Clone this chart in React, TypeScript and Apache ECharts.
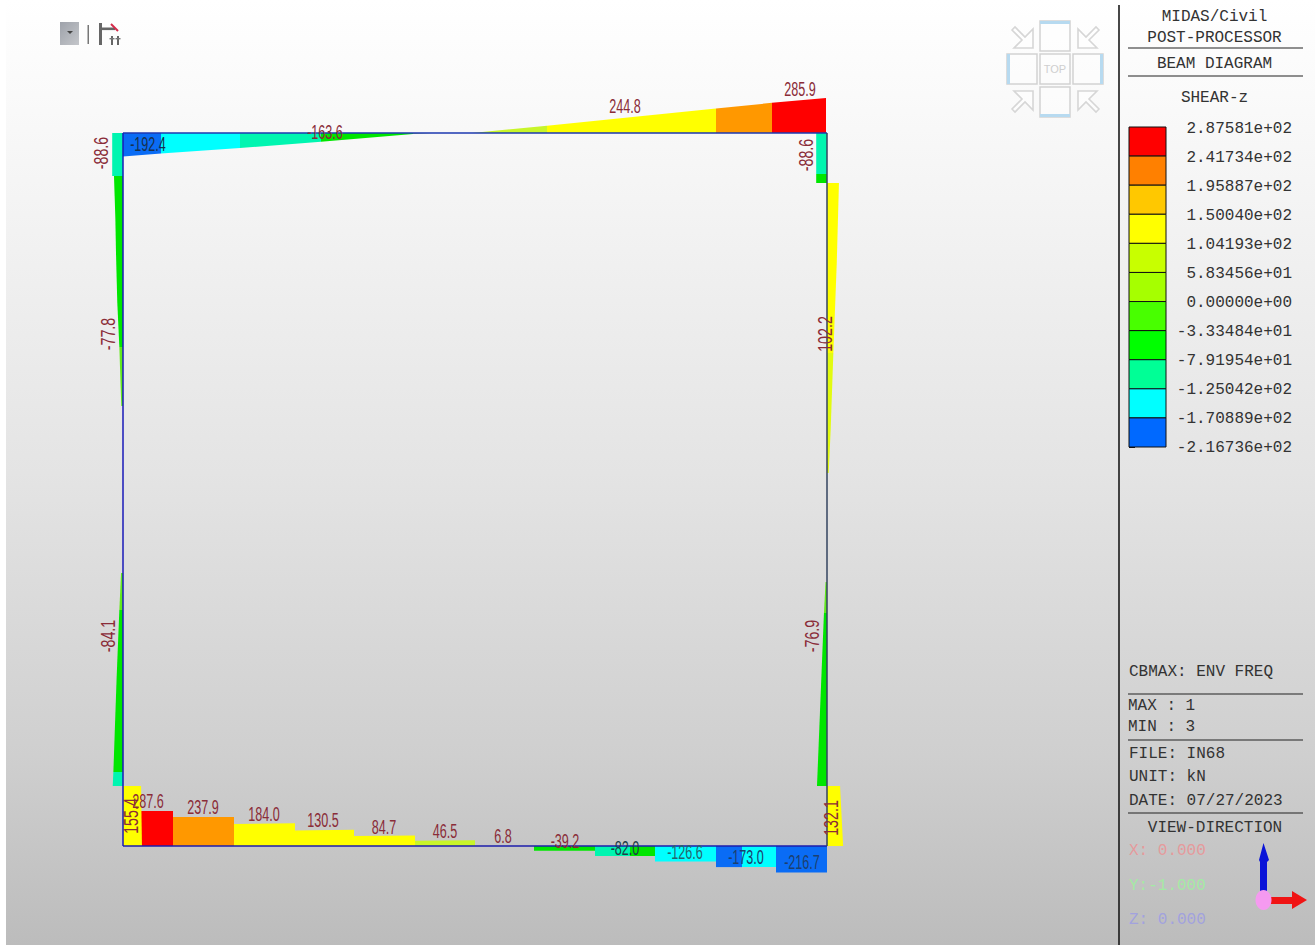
import React, { useEffect, useRef } from "react";
import * as echarts from "echarts";

// ---------- data (station along member, shear at both ends, colour band) ----------
const bottomPieces = [
  [17, 50, 286, 287.6, "red"], [50, 111, 237.9, 237.9, "orange"], [111, 172, 180, 186, "yellow"],
  [172, 231, 127, 133, "yellow"], [231, 292, 82, 87, "yellow"], [292, 352, 44, 48, "lime"],
  [411, 472, -39.2, -39.2, "green"], [472, 507, -82, -82, "teal"], [507, 532, -82, -82, "green"],
  [532, 593, -126.6, -126.6, "cyan"], [593, 619, -173, -173, "blue"], [619, 653, -173, -173, "cyan"],
  [653, 704, -216.7, -216.7, "blue"],
];
const topPieces = [
  [0, 38, -192.4, -169, "blue"], [38, 117, -169, -123, "cyan"], [117, 198, -123, -72, "teal"],
  [198, 290, -72, -8, "green"], [290, 310, -8, 0, "olive"],
  [349, 424, 0, 60, "lime"], [424, 593, 60, 201, "yellow"], [593, 649, 201, 247, "orange"],
  [649, 703, 247, 285.9, "red"],
];
const leftPieces = [
  [0, 43, -88.6, -88.6, "teal"], [43, 84, -74, -63, "green"], [84, 122, -63, -57, "green"],
  [122, 169, -57, -47, "green"], [169, 214, -47, -30, "green"], [214, 273, -30, -14, "lightGreen"],
  [440, 477, -16, -30, "lightGreen"], [477, 544, -30, -52, "green"], [544, 639, -52, -79, "green"],
  [639, 653, -79, -84.1, "teal"], [653, 713, 148, 155.4, "yellow"],
];
const rightPieces = [
  [0, 41, -88.6, -88.6, "teal"], [41, 50, -88.6, -88.6, "green"], [50, 130, 98, 80, "yellow"],
  [130, 220, 80, 52, "yellow"], [220, 297, 52, 30, "paleLime"], [297, 340, 30, 14, "paleLime"],
  [449, 480, -12, -25, "lightGreen"], [480, 653, -25, -82, "green"], [653, 713, 107, 132.1, "yellow"],
];

const bottomLabels = ["287.6", "237.9", "184.0", "130.5", "84.7", "46.5", "6.8", "-39.2", "-82.0", "-126.6", "-173.0", "-216.7"];
const bottomLabelStations = [25, 80, 141, 200, 261, 322, 380, 442, 502, 562, 623, 679];
const bottomLabelOffsets = [45, 39, 32, 26, 19, 15, 10, 5, -1.5, -6, -11, -16];
const topLabels = ["-192.4", "-163.6", "244.8", "285.9"];
const topLabelStations = [25, 202, 502, 677];
const topLabelOffsets = [-11, 1, 27, 44];
const leftLabels = ["-88.6", "-77.8", "-84.1", "155.4"];
const leftLabelStations = [20, 201, 503, 683];
const leftLabelOffsets = [-22, -15, -15, 8];
const rightLabels = ["-88.6", "102.2", "-76.9", "132.1"];
const rightLabelStations = [22, 201, 503, 685];
const rightLabelOffsets = [-21, -2, -15, 4];

const legendTicks = [
  "2.87581e+02", "2.41734e+02", "1.95887e+02", "1.50040e+02", "1.04193e+02", "5.83456e+01",
  "0.00000e+00", "-3.33484e+01", "-7.91954e+01", "-1.25042e+02", "-1.70889e+02", "-2.16736e+02",
];
const legendColors = ["#ff0000", "#ff8000", "#ffc800", "#ffff00", "#c8ff00", "#a6ff00", "#48ff00", "#00ff00", "#00ff96", "#00ffff", "#0069ff"];

const panelTitle = ["MIDAS/Civil", "POST-PROCESSOR", "BEAM DIAGRAM", "SHEAR-z"];
const panelInfo = ["CBMAX: ENV FREQ", "MAX : 1", "MIN : 3", "FILE: IN68", "UNIT: kN", "DATE: 07/27/2023"];
const viewCaption = "VIEW-DIRECTION";
const viewValues = ["X: 0.000", "Y:-1.000", "Z: 0.000"];

// ---------- styles and layout ----------
const K = 0.122; // diagram pixels per kN
const FRAME_W = 704;
const FRAME_H = 713;
const fills: Record<string, string> = {
  red: "#ff0000", orange: "#ff9800", yellow: "#ffff00", lime: "#c8f52a", paleLime: "#e2fb10",
  green: "#00e600", lightGreen: "#62ea1c", teal: "#00f5b0", cyan: "#00ffff", blue: "#0a6cf5", olive: "#8aa868",
};
const frameColors = ["#1c1cab", "#1d38b0", "#1a1ab8", "#33435f"];
const MONO = '16px "Liberation Mono", monospace';

type Row = [number, number, number, number, string];
const members = [bottomPieces, topPieces, leftPieces, rightPieces] as Row[][];
const pieceRows = members.flatMap((list, m) => list.map((r) => [r[0], r[1], r[2], r[3], r[4], m]));

const place = (m: number, station: number, off: number): [number, number] => {
  if (m === 0) return [station, off];
  if (m === 1) return [station, FRAME_H + off];
  if (m === 2) return [off, FRAME_H - station];
  return [FRAME_W + off, FRAME_H - station];
};

const labelSets = [
  [bottomLabels, bottomLabelStations, bottomLabelOffsets],
  [topLabels, topLabelStations, topLabelOffsets],
  [leftLabels, leftLabelStations, leftLabelOffsets],
  [rightLabels, rightLabelStations, rightLabelOffsets],
] as [string[], number[], number[]][];
const labelRows = labelSets.flatMap(([t, s, o], m) => t.map((text, i) => [s[i], o[i], m, text]));
const darkLabels: Record<string, string> = {
  "-192.4": "#17304f", "-82.0": "#1f3d48", "-126.6": "#26656c", "-173.0": "#1d3f6e", "-216.7": "#1d3f6e",
};

const arrowPts = [[0, 3], [3, 0], [13, 10], [21, 2], [21, 21], [2, 21], [10, 13]];
const arrow = (x: number, y: number, sx: number, sy: number) => ({
  type: "polygon", x, y, scaleX: sx, scaleY: sy, silent: true,
  shape: { points: arrowPts },
  style: { fill: "rgba(255,255,255,0.5)", stroke: "#d6d6d6", lineWidth: 1.6 },
});
const square = (x: number, y: number) => ({
  type: "rect", silent: true, shape: { x, y, width: 30, height: 30 },
  style: { fill: "rgba(255,255,255,0.35)", stroke: "#d2d2d2", lineWidth: 1.5 },
});
const bar = (x: number, y: number, width: number, height: number, fill: string) => ({
  type: "rect", silent: true, shape: { x, y, width, height }, style: { fill },
});
const hline = (y: number) => ({
  type: "line", silent: true, shape: { x1: 1128, y1: y, x2: 1303, y2: y }, style: { stroke: "#222", lineWidth: 1.2 },
});
const monoText = (text: string, x: number, y: number, align: string, fill = "#333") => ({
  type: "text", silent: true, x, y: y + 1, style: { text, font: MONO, fill, align, verticalAlign: "middle" },
});

export default function App() {
  const ref = useRef<HTMLDivElement>(null);
  useEffect(() => {
    document.body.style.margin = "0";
    const chart = echarts.init(ref.current!, null, { renderer: "svg" });
    const graphic: any[] = [
      // side panel
      { type: "line", silent: true, shape: { x1: 1119, y1: 5, x2: 1119, y2: 945 }, style: { stroke: "#1a1a1a", lineWidth: 1.6 } },
      hline(48), hline(76), hline(694), hline(740), hline(813),
      monoText(panelTitle[0], 1214.5, 16, "center"),
      monoText(panelTitle[1], 1214.5, 37, "center"),
      monoText(panelTitle[2], 1214.5, 63, "center"),
      monoText(panelTitle[3], 1214.5, 97, "center"),
      monoText(panelInfo[0], 1129, 671, "left"),
      monoText(panelInfo[1], 1128, 705, "left"),
      monoText(panelInfo[2], 1128, 726, "left"),
      monoText(panelInfo[3], 1129, 753, "left"),
      monoText(panelInfo[4], 1129, 776, "left"),
      monoText(panelInfo[5], 1129, 800, "left"),
      monoText(viewCaption, 1215, 827, "center"),
      monoText(viewValues[0], 1129, 850, "left", "#e59a9c"),
      monoText(viewValues[1], 1129, 885, "left", "#a4eaa4"),
      monoText(viewValues[2], 1129, 919, "left", "#a2a2de"),
      // triad
      { type: "polygon", silent: true, shape: { points: [[1260, 893], [1260, 862], [1259, 860], [1263.5, 843], [1269, 860], [1267, 862], [1267, 893]] }, style: { fill: "#0a14d8" } },
      { type: "polygon", silent: true, shape: { points: [[1270, 897], [1292, 897], [1292, 891], [1307, 900], [1292, 909], [1292, 904], [1270, 904]] }, style: { fill: "#f01414" } },
      { type: "ellipse", silent: true, shape: { cx: 1263.5, cy: 900, rx: 8, ry: 10 }, style: { fill: "#f59af0" } },
      // navigation cube
      square(1040, 21), square(1040, 54), square(1007, 54), square(1073, 54), square(1040, 87),
      bar(1040, 21, 30, 3, "#b7daf0"), bar(1007, 54, 3, 30, "#b7daf0"), bar(1100, 54, 3, 30, "#b7daf0"), bar(1040, 114, 30, 3, "#b7daf0"),
      { type: "text", silent: true, x: 1055, y: 69, style: { text: "TOP", font: '11px "Liberation Sans", sans-serif', fill: "#cfcfcf", align: "center", verticalAlign: "middle" } },
      arrow(1012, 27, 1, 1), arrow(1099, 27, -1, 1), arrow(1012, 112, 1, -1), arrow(1099, 112, -1, -1),
      // toolbar
      { type: "rect", silent: true, shape: { x: 60, y: 22, width: 19, height: 23 }, style: { fill: new echarts.graphic.LinearGradient(0, 0, 1, 1, [{ offset: 0, color: "#9ea2aa" }, { offset: 1, color: "#c4c6ca" }]) } },
      { type: "polygon", silent: true, shape: { points: [[67, 31], [73, 31], [70, 34]] }, style: { fill: "#444" } },
      bar(87.5, 25, 1.5, 19, "#777"),
      bar(99, 23, 3, 22, "#666"),
      bar(100, 27.5, 15, 2.6, "#666"),
      { type: "line", silent: true, shape: { x1: 111, y1: 24, x2: 118, y2: 31 }, style: { stroke: "#d42a4a", lineWidth: 2 } },
      bar(111, 36, 2, 9, "#666"), bar(117, 36, 2, 9, "#666"),
      bar(109.5, 38, 5, 1.4, "#777"), bar(115.5, 38, 5, 1.4, "#777"),
    ];

    chart.setOption({
      animation: false,
      backgroundColor: "transparent",
      grid: [
        { left: 0, top: 0, width: 1315, height: 945 },
        { left: 1129, top: 127, width: 37, height: 320 },
        { left: 1129, top: 129, width: 37, height: 319 },
      ],
      xAxis: [
        { type: "value", min: -123, max: 1192, show: false },
        { type: "value", gridIndex: 1, min: 0, max: 1, show: false },
        { type: "value", gridIndex: 2, min: 0, max: 1, show: false },
      ],
      yAxis: [
        { type: "value", min: -99, max: 846, show: false },
        {
          type: "value", gridIndex: 1, min: 0, max: 11, interval: 1, inverse: true, position: "right",
          axisLine: { show: false }, splitLine: { show: false },
          axisTick: { show: true, length: 6, lineStyle: { color: "#111", width: 1 } },
          axisLabel: { show: false },
        },
        {
          type: "value", gridIndex: 2, min: 0, max: 11, interval: 1, inverse: true, position: "right",
          axisLine: { show: false }, splitLine: { show: false }, axisTick: { show: false },
          axisLabel: {
            show: true, margin: 126, align: "right", color: "#333", fontFamily: "Liberation Mono", fontSize: 16,
            formatter: (v: number) => legendTicks[v],
          },
        },
      ],
      series: [
        {
          type: "custom", coordinateSystem: "cartesian2d", silent: true, clip: false, z: 2,
          data: pieceRows,
          renderItem: (p: any, api: any) => {
            const [s0, s1, v0, v1, band, m] = pieceRows[p.dataIndex] as [number, number, number, number, string, number];
            const pts = [place(m, s0, 0), place(m, s1, 0), place(m, s1, v1 * K), place(m, s0, v0 * K)].map((c) => api.coord(c));
            return { type: "polygon", shape: { points: pts }, style: { fill: fills[band] } };
          },
        },
        {
          type: "custom", coordinateSystem: "cartesian2d", silent: true, clip: false, z: 3,
          data: [0, 1, 2, 3].map((m) => [m]),
          renderItem: (p: any, api: any) => {
            const m = p.dataIndex;
            const span = m < 2 ? FRAME_W : FRAME_H;
            const a = api.coord(place(m, 0, 0));
            const b = api.coord(place(m, span, 0));
            return { type: "line", shape: { x1: a[0], y1: a[1], x2: b[0], y2: b[1] }, style: { stroke: frameColors[m], lineWidth: 1.5 } };
          },
        },
        {
          type: "custom", coordinateSystem: "cartesian2d", silent: true, clip: false, z: 4,
          data: labelRows,
          renderItem: (p: any, api: any) => {
            const [s, o, m, text] = labelRows[p.dataIndex] as [number, number, number, string];
            const c = api.coord(place(m, s, o));
            return {
              type: "text", x: c[0], y: c[1], scaleX: m >= 2 ? 0.68 : 0.6, rotation: m >= 2 ? Math.PI / 2 : 0,
              style: { text, fill: darkLabels[text] ?? "#8a2c38", font: '21px "Liberation Sans", sans-serif', align: "center", verticalAlign: "middle" },
            };
          },
        },
        {
          type: "custom", coordinateSystem: "cartesian2d", xAxisIndex: 1, yAxisIndex: 1, silent: true, z: 2,
          data: legendColors.map((_, i) => [i]),
          renderItem: (p: any, api: any) => {
            const i = p.dataIndex;
            const a = api.coord([0, i]);
            const b = api.coord([1, i + 1]);
            return { type: "rect", shape: { x: a[0], y: a[1], width: b[0] - a[0], height: b[1] - a[1] }, style: { fill: legendColors[i], stroke: "#111", lineWidth: 1 } };
          },
        },
      ],
      graphic,
    });
    return () => chart.dispose();
  }, []);

  return (
    <div style={{ position: "fixed", left: 0, top: 0, width: 1315, height: 945, background: "#fff", overflow: "hidden" }}>
      <div style={{ position: "absolute", left: 6, top: 0, width: 1309, height: 945, background: "linear-gradient(to bottom, #ffffff 0%, #fafafa 10%, #e4e4e4 50%, #cfcfcf 80%, #bcbcbc 100%)" }} />
      <div ref={ref} style={{ position: "absolute", left: 0, top: 0, width: 1315, height: 945 }} />
    </div>
  );
}
